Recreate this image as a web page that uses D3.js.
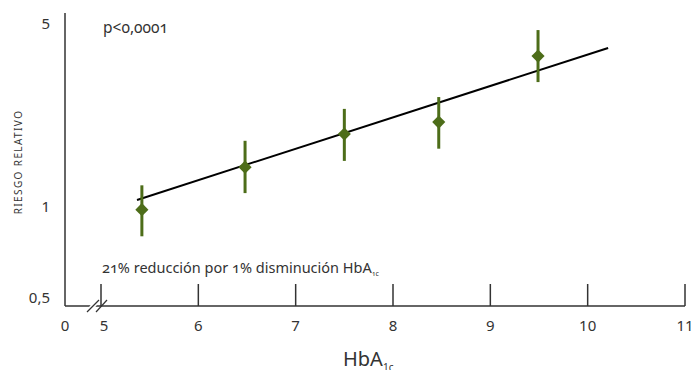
<!DOCTYPE html>
<html>
<head>
<meta charset="utf-8">
<script src="https://cdn.jsdelivr.net/npm/d3@7"></script>
<style>
  html, body { margin: 0; padding: 0; background: #fff; }
  svg { display: block; font-family: "Noto Sans", "Open Sans", sans-serif; }
  .osf { font-variant-numeric: oldstyle-nums; font-feature-settings: "onum" 1; }
</style>
</head>
<body>
<svg id="chart" width="692" height="370"></svg>
<script>
// ---- data ----
const hba1c      = [5.42, 6.48, 7.50, 8.47, 9.49];
const riesgo     = [0.98, 1.42, 1.90, 2.11, 3.77];
const riesgoLow  = [0.80, 1.13, 1.50, 1.67, 3.00];
const riesgoHigh = [1.21, 1.79, 2.37, 2.63, 4.74];
const trendX     = [5.37, 10.21];
const trendY     = [1.064, 4.05];
const xTicks     = [0, 5, 6, 7, 8, 9, 10, 11];
const yTicks     = [0.5, 1, 5];
const yTickLabels = ["0,5", "1", "5"];

const green = "#4d6d19";
const axisCol = "#333";
const textCol = "#333";

const svg = d3.select("#chart");

const x = d3.scaleLinear().domain([0, 5, 11]).range([65, 101, 685]);
const y = d3.scaleLog().domain([0.5, 1, 5]).range([298, 207, 24]);
const axisY = 306;

// y axis line
svg.append("line").attr("x1", 65).attr("x2", 65).attr("y1", 13).attr("y2", axisY)
  .attr("stroke", axisCol).attr("stroke-width", 1.5);
// x axis line
svg.append("line").attr("x1", 65).attr("x2", x(11)).attr("y1", axisY).attr("y2", axisY)
  .attr("stroke", axisCol).attr("stroke-width", 1.5);

// x ticks (upward), skip 0
svg.selectAll(".xtick").data(xTicks.filter(d => d !== 0)).enter().append("line")
  .attr("x1", d => x(d)).attr("x2", d => x(d))
  .attr("y1", axisY - 22).attr("y2", axisY)
  .attr("stroke", axisCol).attr("stroke-width", 1.5);

// break marks
svg.append("line").attr("x1", 90).attr("x2", 96).attr("y1", axisY + 4).attr("y2", axisY - 4)
  .attr("stroke", "#fff").attr("stroke-width", 5);
[[87, 99], [96, 107]].forEach(([a, b]) => {
  svg.append("line").attr("x1", a).attr("y1", 312).attr("x2", b).attr("y2", 300)
    .attr("stroke", axisCol).attr("stroke-width", 1.2);
});

// x tick labels
svg.selectAll(".xlab").data(xTicks).enter().append("text")
  .attr("x", d => d === 5 ? x(d) + 3 : x(d)).attr("y", 331)
  .attr("text-anchor", "middle").attr("font-size", 15).attr("fill", textCol)
  .text(d => d);

// y tick labels
svg.selectAll(".ylab").data(yTicks).enter().append("text")
  .attr("x", 50).attr("y", d => y(d) + 5)
  .attr("text-anchor", "end").attr("font-size", 15).attr("fill", textCol)
  .text((d, i) => yTickLabels[i]);

// y axis title
svg.append("text")
  .attr("transform", "translate(22,162) rotate(-90)")
  .attr("text-anchor", "middle").attr("font-size", 10).attr("letter-spacing", 1.4)
  .attr("fill", textCol).text("RIESGO RELATIVO");

// x axis title
const xt = svg.append("text").attr("x", 343).attr("y", 366).attr("font-size", 20).attr("fill", textCol);
xt.append("tspan").text("HbA");
xt.append("tspan").attr("font-size", 10).attr("dy", 5).text("1c");

// annotations
svg.append("text").attr("class", "osf").attr("x", 103).attr("y", 33)
  .attr("font-size", 15.5).attr("fill", textCol).text("p<0,0001");
const an = svg.append("text").attr("class", "osf").attr("x", 102).attr("y", 273)
  .attr("font-size", 14.5).attr("fill", textCol);
an.append("tspan").text("21% reducción por 1% disminución HbA");
an.append("tspan").attr("font-size", 7).attr("dy", 3).text("1c");

// trend line
svg.append("line")
  .attr("x1", x(trendX[0])).attr("y1", y(trendY[0]))
  .attr("x2", x(trendX[1])).attr("y2", y(trendY[1]))
  .attr("stroke", "#000").attr("stroke-width", 2);

// error bars
const idx = d3.range(hba1c.length);
svg.selectAll(".err").data(idx).enter().append("line")
  .attr("x1", i => x(hba1c[i])).attr("x2", i => x(hba1c[i]))
  .attr("y1", i => y(riesgoHigh[i])).attr("y2", i => y(riesgoLow[i]))
  .attr("stroke", green).attr("stroke-width", 3);

// diamonds
const diamond = d3.symbol().type(d3.symbolDiamond2).size(110);
svg.selectAll(".pt").data(idx).enter().append("path")
  .attr("d", diamond)
  .attr("transform", i => `translate(${x(hba1c[i])},${y(riesgo[i])})`)
  .attr("fill", green);
</script>
</body>
</html>
